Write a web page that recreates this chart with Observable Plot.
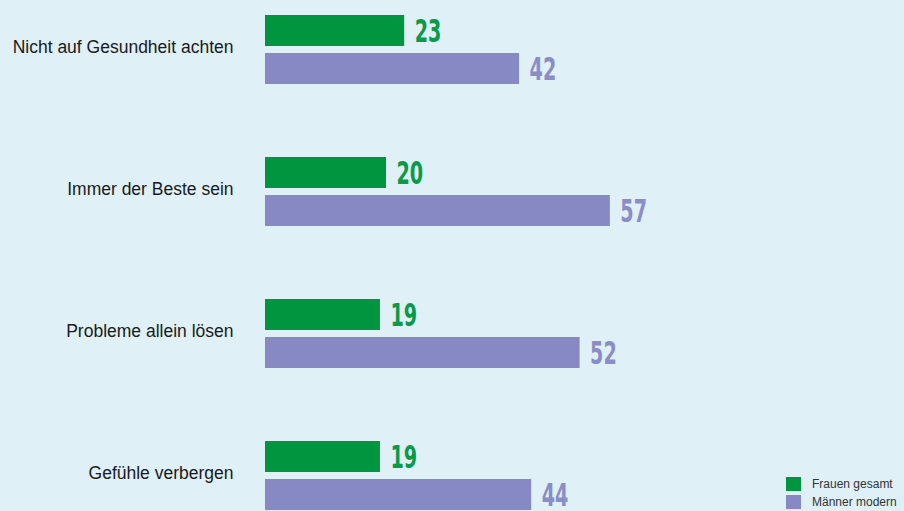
<!DOCTYPE html>
<html>
<head>
<meta charset="utf-8">
<script src="https://cdn.jsdelivr.net/npm/d3@7"></script>
<script src="https://cdn.jsdelivr.net/npm/@observablehq/plot@0.6"></script>
<style>
  html, body { margin: 0; padding: 0; background: #dff0f7; }
  #wrap { position: relative; width: 904px; height: 511px; overflow: hidden; background: #dff0f7; }
  #legend { position: absolute; left: 786px; top: 475px; font-family: "Liberation Sans", Arial, Helvetica, sans-serif; font-size: 12px; color: #333; }
  #legend .row { display: flex; align-items: center; height: 18px; }
  #legend .sw { width: 15px; height: 14px; margin-right: 11px; }
</style>
</head>
<body>
<div id="wrap"><div id="chart"></div><div id="legend"></div></div>
<script>
const categories = ["Nicht auf Gesundheit achten", "Immer der Beste sein", "Probleme allein lösen", "Gefühle verbergen"];
const series = ["Frauen gesamt", "Männer modern"];
const frauen = [23, 20, 19, 19];
const maenner = [42, 57, 52, 44];
const colors = ["#009640", "#8689c4"];
const textColors = ["#0a9a48", "#8a8dc6"];

const data = [];
categories.forEach((c, i) => {
  data.push({category: c, series: series[0], value: frauen[i]});
  data.push({category: c, series: series[1], value: maenner[i]});
});

const chart = Plot.plot({
  width: 904,
  height: 511,
  marginLeft: 265,
  marginRight: 0,
  marginTop: 15,
  marginBottom: 1,
  style: {background: "transparent", color: "#1a1a1a", fontFamily: "'Liberation Sans', Arial, Helvetica, sans-serif"},
  x: {domain: [0, 639 / 6.05], axis: null},
  y: {domain: series, axis: null, paddingInner: 7 / 38, paddingOuter: 0},
  fy: {domain: categories, paddingInner: 73 / 142, paddingOuter: 0, axis: null},
  color: {domain: series, range: colors},
  marks: [
    Plot.axisFy({anchor: "left", tickSize: 0, tickPadding: 32, label: null, fontSize: 17.5, dy: -3, fill: "#1a1a1a"}),
    Plot.barX(data, {fy: "category", y: "series", x: "value", fill: "series"}),
    Plot.text(data, {
      fy: "category", y: "series", x: "value", text: d => String(d.value),
      fill: d => d.series === series[0] ? textColors[0] : textColors[1],
      textAnchor: "start", dx: 10, dy: 1,
      fontSize: 32, fontWeight: "bold",
      fontFamily: "'DejaVu Sans', sans-serif",
      className: "vlabel"
    })
  ]
});
document.getElementById("chart").appendChild(chart);

// condense the value labels horizontally (no condensed font available offline)
d3.select(chart).selectAll("g.vlabel text").each(function() {
  const t = this.getAttribute("transform") || "";
  const x = this.getAttribute("x");
  if (x != null) {
    // scale around the text's start point
    const y = this.getAttribute("y") || 0;
    this.setAttribute("transform", `${t} translate(${x},${y}) scale(0.6,1) translate(${-x},${-y})`);
  } else {
    this.setAttribute("transform", `${t} scale(0.6,1)`);
  }
});

const legend = document.getElementById("legend");
series.forEach((s, i) => {
  const row = document.createElement("div");
  row.className = "row";
  const sw = document.createElement("div");
  sw.className = "sw";
  sw.style.background = colors[i];
  const t = document.createElement("span");
  t.textContent = s;
  row.appendChild(sw);
  row.appendChild(t);
  legend.appendChild(row);
});
</script>
</body>
</html>
